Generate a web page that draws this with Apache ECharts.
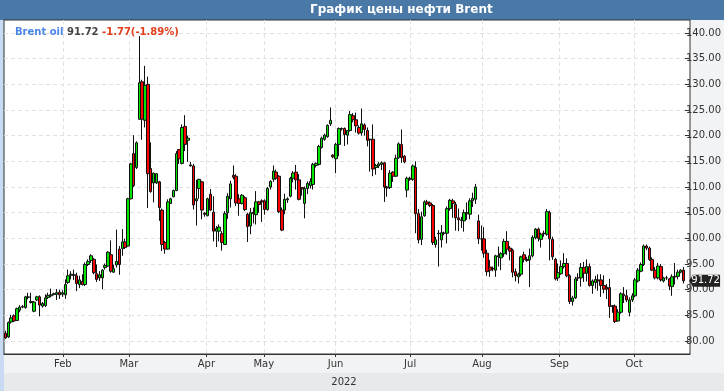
<!DOCTYPE html>
<html><head><meta charset="utf-8">
<script src="https://cdn.jsdelivr.net/npm/echarts@6/dist/echarts.min.js"></script>
<style>html,body{margin:0;padding:0;background:#f2f3f5}#c{width:724px;height:391px}</style>
</head><body><div id="c"></div><script>
// ---- data ----
const chartTitle = 'График цены нефти Brent';
const seriesName = 'Brent oil';
const yearLabel = '2022';
const monthNames = ['Jan','Feb','Mar','Apr','May','Jun','Jul','Aug','Sep','Oct'];
const monthCounts = [20,23,27,20,25,26,25,27,26,20];
const lastPrice = 91.72;
const changeText = '-1.77(-1.89%)';
const yMin = 80, yMax = 140, yStep = 5;
// each candle: [open, close, low, high]
const ohlc = [
[81.5,80.6,80.4,82.0],[80.8,83.6,80.6,83.8],[83.7,84.5,83.4,85.1],[84.9,83.9,83.7,85.2],[84.0,86.3,83.9,86.5],
[86.0,86.6,85.6,87.0],[86.6,86.7,86.4,87.0],[86.5,88.6,86.3,88.8],[88.5,88.6,88.1,89.4],[87.7,87.5,87.3,89.4],
[85.8,87.6,85.6,87.8],[88.0,88.6,87.8,88.8],[88.6,87.0,84.8,88.9],[86.8,87.3,86.5,87.6],[86.9,88.4,86.6,89.1],
[88.5,88.9,88.2,89.4],[88.8,89.0,88.5,90.2],[89.1,89.2,88.9,89.4],[89.1,89.4,88.0,90.1],[89.5,89.0,88.2,90.0],
[89.1,89.4,88.6,89.9],[89.0,91.0,88.2,92.0],[91.4,92.7,91.1,93.9],[92.8,93.0,92.0,93.6],[92.9,92.8,91.9,93.9],
[92.7,91.2,89.7,93.3],[91.0,91.9,90.3,92.7],[91.6,91.0,90.8,93.0],[91.0,94.9,90.7,95.3],[94.9,95.5,94.6,95.9],
[95.7,96.6,95.2,96.9],[95.9,93.3,93.0,96.2],[93.1,92.0,91.5,94.9],[92.3,92.9,91.7,93.6],[92.3,93.8,90.1,94.0],
[94.3,94.7,93.9,95.1],[94.6,97.3,94.5,97.5],[96.8,93.6,93.3,99.6],[93.4,94.1,93.3,94.9],[94.8,95.5,94.3,101.7],
[97.9,94.9,92.9,98.5],[98.0,99.3,96.6,101.8],[99.3,98.2,97.9,99.9],[98.5,107.7,98.4,107.9],[107.7,114.5,107.6,114.7],
[116.5,110.3,110.0,120.1],[113.8,118.6,113.5,118.9],[123.2,130.3,123.1,139.4],[130.5,123.2,119.2,130.9],[123.0,129.8,121.6,133.6],
[130.0,112.6,105.9,131.5],[113.6,109.1,108.9,118.7],[110.8,112.7,107.0,112.8],[110.8,112.6,110.6,112.7],[111.0,106.0,103.4,111.2],
[105.5,98.8,97.5,105.8],[99.2,97.9,97.0,99.5],[97.9,107.1,97.8,107.6],[106.8,107.7,106.7,107.9],[108.1,109.3,108.0,109.5],
[109.3,116.5,109.2,117.0],[117.3,115.5,114.5,117.4],[114.6,121.6,114.4,122.2],[121.8,118.3,117.0,124.0],[119.1,119.5,114.9,120.0],
[114.3,114.1,114.0,114.9],[114.1,106.5,105.6,114.5],[107.3,107.7,102.5,111.4],[109.7,111.5,107.7,111.6],[111.0,105.5,103.7,111.2],
[104.9,104.7,104.2,105.1],[104.4,107.7,104.3,107.9],[108.6,105.5,105.3,109.6],[105.1,101.4,99.4,108.2],[101.4,101.9,98.3,102.4],
[101.4,102.2,99.4,102.7],[100.9,99.2,97.6,101.4],[98.8,104.8,98.7,105.3],[105.0,108.2,103.8,108.8],[107.7,110.6,106.0,111.2],
[112.3,111.9,111.5,114.2],[112.1,106.9,106.3,112.5],[107.7,106.8,104.4,108.6],[106.8,108.4,106.6,108.6],[107.9,105.6,105.3,108.2],
[104.7,102.3,99.3,105.0],[102.4,105.0,100.8,105.9],[105.1,104.8,102.9,106.0],[104.6,107.1,102.7,109.2],[107.1,106.6,105.0,107.3],
[107.3,107.1,103.2,107.6],[107.3,105.6,104.6,107.6],[105.6,109.7,105.4,110.0],[110.0,111.1,109.5,111.3],[111.5,113.1,111.0,114.2],
[112.9,111.7,111.4,113.4],[112.1,105.2,104.9,112.3],[105.5,101.6,101.4,106.0],[105.5,107.6,104.7,108.7],[107.5,107.7,106.9,108.0],
[108.2,111.7,108.0,112.0],[111.7,112.7,110.9,113.1],[112.9,111.4,109.5,114.3],[111.4,107.6,107.4,112.5],[109.9,109.6,108.3,110.0],
[106.8,109.7,103.9,110.1],[109.7,110.7,108.6,111.1],[110.3,111.1,109.7,111.7],[110.5,114.4,109.5,114.7],[114.2,114.6,113.8,114.8],
[114.4,117.9,114.2,118.2],[117.7,119.5,117.5,119.8],[119.3,120.1,119.0,120.4],[119.8,122.0,119.6,122.2],[122.3,123.0,121.9,125.5],
[116.2,115.9,115.6,116.4],[115.5,118.3,112.7,118.6],[118.3,121.4,116.0,121.6],[121.3,121.4,121.0,121.6],[121.4,120.2,118.0,121.6],
[120.1,121.0,118.3,121.1],[121.0,124.1,120.8,124.8],[123.9,123.1,122.6,124.4],[123.1,121.9,120.6,124.5],[121.6,120.5,120.2,122.0],
[120.6,122.3,120.0,125.3],[122.1,121.2,120.0,122.4],[121.0,119.1,117.9,121.6],[119.3,119.2,113.0,119.4],[119.3,113.5,112.1,122.2],
[113.8,114.2,112.4,114.5],[114.1,114.5,113.7,114.9],[114.4,114.7,113.3,115.0],[114.7,110.0,107.1,114.9],[110.0,109.8,108.1,110.2],
[109.9,112.7,109.6,113.3],[112.9,112.1,111.0,113.1],[112.1,115.6,112.0,116.3],[115.7,118.4,115.5,118.7],[118.3,115.7,114.7,121.2],
[116.0,114.9,114.6,116.2],[109.4,111.7,108.0,112.0],[111.7,111.5,111.2,112.0],[111.5,114.1,111.2,114.4],[113.8,104.8,101.0,115.0],
[104.8,99.7,99.0,105.7],[99.8,104.2,98.7,105.2],[104.4,107.1,104.2,107.4],[107.1,106.7,106.5,107.5],[106.9,106.4,106.1,107.2],
[106.4,99.2,98.7,106.7],[98.8,99.7,98.2,100.3],[101.0,100.9,94.5,101.6],[99.7,101.1,98.2,102.6],[101.0,101.0,100.6,101.3],
[101.0,105.8,99.0,106.2],[105.8,107.4,105.4,107.7],[107.3,106.8,104.0,107.7],[106.6,104.0,101.5,107.1],[104.0,103.6,101.4,105.8],
[103.6,103.5,102.0,104.2],[103.4,105.0,101.3,105.6],[105.0,104.8,103.6,107.0],[104.7,107.3,103.7,107.8],[107.3,107.8,106.1,108.9],
[107.6,110.0,106.7,110.6],[103.4,99.9,98.9,104.6],[99.9,99.9,97.6,102.5],[99.9,97.1,96.2,102.2],[97.1,93.5,92.7,97.8],
[94.4,93.8,92.5,95.8],[94.2,94.0,93.6,94.5],[93.8,96.6,92.5,96.8],[96.4,96.6,94.5,98.4],[96.2,97.0,93.8,97.3],
[97.0,99.4,96.4,99.9],[99.4,97.9,96.8,101.4],[98.1,97.5,95.7,98.5],[97.7,93.4,92.4,98.0],[93.5,92.7,91.6,94.1],
[92.5,93.0,91.2,93.3],[93.0,96.4,92.6,96.6],[96.8,95.9,95.3,97.4],[95.9,95.7,95.4,96.4],[95.8,96.6,90.5,98.0],
[96.6,100.2,96.3,100.6],[100.1,101.8,99.8,102.0],[101.8,100.0,99.4,102.1],[99.8,100.8,98.2,101.1],[101.0,100.9,100.3,101.5],
[100.8,105.2,100.5,105.7],[105.0,99.9,95.7,105.4],[99.8,96.4,95.8,100.3],[95.9,92.1,91.8,96.2],[92.3,93.3,91.7,95.1],
[93.1,94.5,92.9,95.7],[94.5,95.1,94.1,97.1],[95.1,92.7,92.4,96.1],[92.7,87.7,87.2,93.0],[87.7,88.4,86.9,88.8],
[88.4,92.1,88.2,92.5],[92.3,92.3,91.7,93.2],[92.3,94.3,90.6,95.2],[94.3,93.2,91.5,95.4],[93.2,94.5,91.6,95.9],
[94.5,90.8,90.6,95.1],[90.8,91.7,89.2,92.0],[91.4,92.0,90.2,92.7],[91.9,91.7,89.8,93.0],[91.9,90.8,88.6,93.0],
[90.8,90.1,89.3,92.8],[90.5,90.1,88.2,91.1],[90.4,86.7,84.5,92.1],[86.9,86.7,85.5,87.0],[86.8,83.8,83.5,87.1],
[83.9,85.6,83.8,86.2],[85.6,89.2,85.3,89.5],[89.1,88.8,87.4,90.5],[88.8,88.0,87.6,90.0],[85.6,88.0,84.8,88.5],
[88.0,88.8,87.6,89.3],[88.8,91.9,88.5,92.3],[91.7,93.8,91.4,94.2],[93.6,94.9,93.4,95.3],[94.9,98.5,94.6,98.8],
[98.5,98.1,97.7,98.8],[98.1,95.9,95.6,98.4],[95.9,93.8,93.6,96.3],[93.8,92.3,92.0,94.4],[92.3,94.6,92.0,95.2],
[94.5,91.9,91.6,95.0],[91.7,92.3,91.4,92.5],[92.3,92.3,91.9,92.7],[92.1,90.7,89.9,92.3],[90.6,92.5,88.8,93.0],
[92.5,92.6,91.0,95.2],[92.6,93.4,92.0,93.9],[93.4,93.8,93.2,94.0],[93.8,91.72,91.2,94.4]
];
// ---- build categories ----
const categories = [];
const monthStarts = new Set();
monthNames.forEach((m, mi) => {
  for (let k = 0; k < monthCounts[mi]; k++) {
    if (k === 0 && mi > 0) monthStarts.add(categories.length);
    categories.push(m + '|' + k);
  }
});
const isStart = (i) => monthStarts.has(i);
const FONT = 'DejaVu Sans';
const chart = echarts.init(document.getElementById('c'), null, {renderer: 'canvas'});
chart.setOption({
  animation: false,
  backgroundColor: '#f2f3f5',
  textStyle: {fontFamily: FONT},
  title: [
    {text: chartTitle, left: 310, top: 4, padding: 0, textStyle: {color: '#fff', fontSize: 12, fontWeight: 'bold', fontFamily: FONT}},
    {text: '{a|' + seriesName + ' }{b|' + lastPrice.toFixed(2) + ' }{c|' + changeText + '}', left: 15, top: 26, padding: 0,
     textStyle: {fontSize: 10, lineHeight: 12, rich: {
       a: {color: '#4a86e8', fontWeight: 'bold', fontSize: 10, lineHeight: 12, fontFamily: FONT},
       b: {color: '#444', fontWeight: 'bold', fontSize: 10, lineHeight: 12, fontFamily: FONT},
       c: {color: '#e0401c', fontWeight: 'bold', fontSize: 10, lineHeight: 12, fontFamily: FONT}
     }}}
  ],
  graphic: [
    {type: 'rect', z: -1, silent: true, shape: {x: 0, y: 0, width: 724, height: 20}, style: {fill: '#4a78a7'}},
    {type: 'rect', z: -1, silent: true, shape: {x: 4, y: 20, width: 686, height: 334}, style: {fill: '#ffffff'}},
    {type: 'rect', z: -1, silent: true, shape: {x: 0, y: 373, width: 724, height: 18}, style: {fill: '#e8e9eb'}},
    {type: 'rect', z: -1, silent: true, shape: {x: 0, y: 20, width: 4, height: 371}, style: {fill: '#c8dbf3'}},
    {type: 'text', silent: true, x: 344, y: 382, style: {text: yearLabel, font: '10px ' + FONT, fill: '#333', align: 'center', verticalAlign: 'middle', textAlign: 'center', textVerticalAlign: 'middle'}}
  ],
  grid: [
    {left: 4, right: 34, top: 33, bottom: 50, show: false},
    {left: 4, right: 34, top: 20, bottom: 37, show: true, borderColor: '#333', borderWidth: 1, backgroundColor: 'transparent'}
  ],
  xAxis: [
    {type: 'category', gridIndex: 0, data: categories, show: false, boundaryGap: true},
    {type: 'category', gridIndex: 1, data: categories, boundaryGap: true,
     axisLine: {show: true, lineStyle: {color: '#333', width: 1}},
     axisTick: {show: true, length: 3, alignWithLabel: true, interval: (i) => isStart(i), lineStyle: {color: '#333'}},
     axisLabel: {show: true, interval: (i) => isStart(i), formatter: (v) => v.split('|')[0], color: '#333', fontSize: 10, margin: 5, fontFamily: FONT},
     splitLine: {show: true, alignWithLabel: true, interval: (i) => isStart(i), lineStyle: {color: '#e2e2e2', type: [4, 3]}}}
  ],
  yAxis: [
    {type: 'value', gridIndex: 0, position: 'right', min: yMin, max: yMax, interval: yStep, scale: true,
     axisLine: {show: false},
     axisTick: {show: true, length: 4, lineStyle: {color: '#333'}},
     axisLabel: {color: '#333', fontSize: 10, margin: 1, formatter: (v) => v.toFixed(2), fontFamily: FONT},
     splitLine: {show: true, lineStyle: {color: '#e2e2e2', type: [4, 3]}}},
    {type: 'value', gridIndex: 1, show: false, min: 0, max: 1, splitLine: {show: false}}
  ],
  series: [{
    type: 'candlestick', xAxisIndex: 0, yAxisIndex: 0,
    data: ohlc, barWidth: 3,
    itemStyle: {color: '#00e600', color0: '#ff0000', borderColor: '#111', borderColor0: '#111', borderColorDoji: '#111', borderWidth: 1},
    markPoint: {
      symbol: 'path://M0,5L4,0L34,0L34,10L4,10Z', symbolSize: [31, 12], symbolKeepAspect: false,
      symbolOffset: [21, 0], silent: true,
      itemStyle: {color: '#222'},
      label: {show: true, position: 'inside', offset: [1, 0], color: '#fff', fontSize: 10, fontFamily: FONT, formatter: lastPrice.toFixed(2)},
      data: [{coord: [categories.length - 1, lastPrice]}]
    }
  }]
});
</script></body></html>
